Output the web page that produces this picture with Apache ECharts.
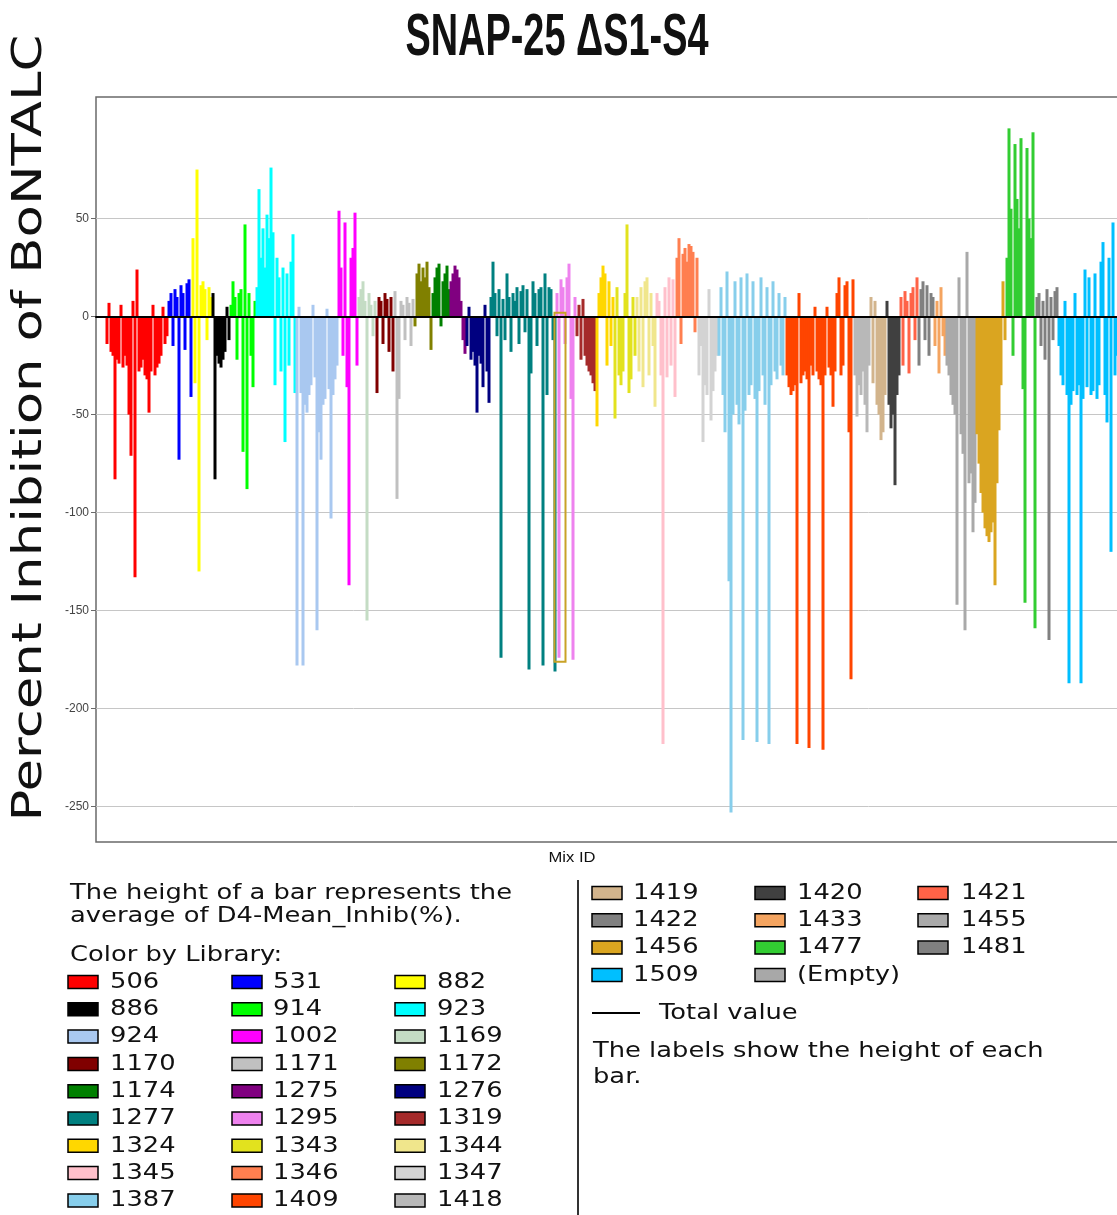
<!DOCTYPE html>
<html>
<head>
<meta charset="utf-8">
<title>SNAP-25 ΔS1-S4</title>
<script src="https://cdn.jsdelivr.net/npm/echarts@6/dist/echarts.min.js"></script>
<style>
  html, body { margin: 0; padding: 0; background: #ffffff; overflow: hidden; }
  /* the plot runs a little past the right edge of the 1117px page */
  #chart { width: 1126px; height: 1215px; }
</style>
</head>
<body>
<div id="chart"></div>
<script>
// Libraries in the order they run along the Mix ID axis, with their colours
const libraries = ['506','531','882','886','914','923','924','1002','1169','1170','1171','1172','1174','1275','1276','1277','1295','1319','1324','1343','1344','1345','1346','1347','1387','1409','1418','1419','1420','1421','1422','1433','1455','1456','1477','1481','1509'];
const libraryColors = ['#ff0000','#0000ff','#ffff00','#000000','#00ff00','#00ffff','#a9c8f0','#ff00ff','#c4dcc4','#800000','#c0c0c0','#808000','#008000','#800080','#000080','#008080','#ee82ee','#a52a2a','#ffd700','#e2e21e','#f0e68c','#ffc0cb','#ff7f50','#d3d3d3','#87ceeb','#ff4500','#b8b8b8','#d2b48c','#404040','#ff6347','#808080','#f4a460','#a9a9a9','#daa520','#32cd32','#808080','#00bfff'];
const emptyColor = '#a8a8a8';

// Average D4-Mean_Inhib(%) for each mix, one array per library
const v506  = [-14, 7, -18, -20, -83, -22, -24, 6, -26, -20, -25, -50, -71, 8, -133, 24, -28, -26, -22, -30, -32, -49, -28, 6, -30, -26, -24, -20, 5, -14, -10];
const v531  = [8, 12, -15, 14, 10, -73, 16, 12, -17, 17, 19, -41];
const v882  = [40, -34, 75, -130, 16, 18, 14, -12, 15, 10];
const v886  = [12, -83, -20, -24, -26, -22, -18, 5, -12];
const v914  = [6, 18, 10, -22, 12, 14, -69, 47, -88, 12, -20, -36, 8];
const v923  = [15, 65, 30, 45, 25, 52, 40, 76, 43, -35, 30, 20, -28, 25, -64, 22, -25, 28, 42, -39];
const v924  = [-178, 5, -39, -178, -45, -49, -40, -35, 6, -31, -160, -59, -73, -45, -42, 4, -37, -103, -40, -32, -25];
const v1002 = [54, 25, -20, 48, -36, -137, 30, 35, 53, -25];
const v1169 = [10, 14, 18, 8, -155, 12, 6, -10, 8];
const v1170 = [-39, 10, 8, -14, 12, 9, -18, 10, -28];
const v1171 = [13, -93, -42, 8, 6, -12, 10, 7, -15, 9];
const v1172 = [-5, 22, 27, 18, 25, 20, 28, 15, -17];
const v1174 = [12, 20, 25, 27, -5, 18, 22, 26, 14];
const v1275 = [18, 22, 26, 24, 20, 8, -12, -19];
const v1276 = [-15, 5, -22, -18, -25, -49, -20, -24, -36, 6, -28, -44];
const v1277 = [10, 28, 12, -10, 14, -174, 9, -12, 22, 10, -18, 12, 8, 15, -14, 13, 16, -8, 14, -180, -29, 18, 12, -15, 14, 15, -178, 22, -40, 15, 14, -12, -181];
const v1295 = [12, -174, 19, 15, -14, 20, 27, -42, -175, 10];
const v1319 = [-10, 6, -22, 9, -20, -25, -28, -30, -34, -38];
const v1324 = [-56, 12, 20, 26, 22, -25, 18, -15, 10];
const v1343 = [-52, 15, -30, -35, -28, 12, 47, -39, -32, 10, -20];
const v1344 = [10, -28, 15, -36, 18, 20, -30, 12, -15, -46];
const v1345 = [12, 8, -30, -218, 15, -31, 20, -25, 19, -41];
const v1346 = [30, 40, -14, 32, 35, 28, 37, 36, 33, -8, 30];
const v1347 = [-30, -15, -64, -35, -40, 14, -53, -38, -28, -20];
const v1387 = [-20, 15, -40, -59, 23, -135, -253, -50, 18, -45, -55, 20, -216, -48, 22, -40, -35, 18, -42, -217, -38, 20, -30, -45, 15, -218, -35, 18, -28, -32, 12, -25, -30, 10];
const v1409 = [-30, -36, -40, -38, -35, -218, 12, -34, -30, -28, -32, -220, -25, -30, 5, -28, -32, -35, -221, -30, 5, -26, -30, -46, -28, 12, 20, -30, -25, 16, 18, -59, -185, 19];
const v1418 = [-30, -51, -35, -40, -28, -45, -59, -25];
const v1419 = [10, -34, 8, -45, -50, -63, -59, -40];
const v1420 = [8, -45, -57, -50, -86, -40, -30];
const v1421 = [10, -25, 13, 8, -29, 12, 15, -12, 20];
const v1422 = [-25, 14, 18, -12, 16, -20, 12, 10];
const v1433 = [-15, 8, -29, 15, -10, -20];
const v1455 = [-25, -30, -40, -45, -50, -147, 20, -60, -70, -160, 33, -85, -80, -110, -95];
const v1456 = [-60, -75, -90, -100, -108, -112, -115, -110, -105, -137, -85, -58, -35, 18, -12];
const v1477 = [30, 96, 55, -20, 88, 60, 45, 91, -37, -146, 86, 50, 40, 94, -159];
const v1481 = [10, 12, -15, 8, -22, 14, -165, 10, -12, 13, 15];
const v1509 = [-15, -30, -35, 8, -40, -187, -45, -38, 12, -40, -35, -187, -42, 24, -36, 20, -40, -38, 22, -42, -35, 28, 38, -40, -54, 30, -120, 48, -30, -20, 15, -25];

const libraryValues = [v506, v531, v882, v886, v914, v923, v924, v1002, v1169, v1170, v1171, v1172, v1174, v1275, v1276, v1277, v1295, v1319, v1324, v1343, v1344, v1345, v1346, v1347, v1387, v1409, v1418, v1419, v1420, v1421, v1422, v1433, v1455, v1456, v1477, v1481, v1509];

// Empty Mix IDs before the first and after the last library
const leadingEmptyMixes = 5;
const trailingEmptyMixes = 2;

// The highlighted (selected) mix: library and position within it
const selectedLibrary = '1295';
const selectedItem = 1;

const yTicks = [50, 0, -50, -100, -150, -200, -250];

const legendLeftOrder = ['506','531','882','886','914','923','924','1002','1169','1170','1171','1172','1174','1275','1276','1277','1295','1319','1324','1343','1344','1345','1346','1347','1387','1409','1418'];
const legendRightOrder = ['1419','1420','1421','1422','1433','1455','1456','1477','1481','1509','(Empty)'];

// ---- build the bar data ----
const mixIds = [];
const barData = [];
let selectedIndex = 0;
for (let i = 0; i < leadingEmptyMixes; i++) { mixIds.push(String(mixIds.length + 1)); barData.push('-'); }
libraries.forEach((lib, li) => {
  libraryValues[li].forEach((v, k) => {
    if (lib === selectedLibrary && k === selectedItem) selectedIndex = barData.length;
    mixIds.push(String(mixIds.length + 1));
    barData.push({ value: v, itemStyle: { color: libraryColors[li] } });
  });
});
for (let i = 0; i < trailingEmptyMixes; i++) { mixIds.push(String(mixIds.length + 1)); barData.push('-'); }
const selectedValue = barData[selectedIndex].value;

// ---- text helpers ----
const measureCtx = document.createElement('canvas').getContext('2d');
function fitScale(text, font, width) {
  measureCtx.font = font;
  return width / measureCtx.measureText(text).width;
}
const ink = '#111111';
function textEl(text, x, y, font, scaleX, align, rotation) {
  return {
    type: 'text', x: x, y: y, scaleX: scaleX, scaleY: 1, rotation: rotation || 0, silent: true,
    style: { text: text, font: font, fill: ink, textAlign: align || 'left', verticalAlign: 'middle', textVerticalAlign: 'middle' }
  };
}

const colorOf = name => name === '(Empty)' ? emptyColor : libraryColors[libraries.indexOf(name)];

const legendFont = '22px "DejaVu Sans"';
const legendScale = fitScale('The height of a bar represents the', legendFont, 442);

const graphics = [];

// title
const titleFont = 'bold 60px "Liberation Sans"';
graphics.push(textEl('SNAP-25 ΔS1-S4', 557, 38, titleFont, fitScale('SNAP-25 ΔS1-S4', titleFont, 303), 'center'));

// vertical axis title
const yTitle = 'Percent Inhibition of BoNTALC';
const yTitleFont = '41px "DejaVu Sans"';
graphics.push(textEl(yTitle, 30, 428, yTitleFont, fitScale(yTitle, yTitleFont, 787), 'center', Math.PI / 2));

// x axis name
const xNameFont = '15px "Liberation Sans"';
graphics.push(textEl('Mix ID', 572, 858, xNameFont, fitScale('Mix ID', xNameFont, 47), 'center'));

// left legend block
graphics.push(textEl('The height of a bar represents the', 70, 893, legendFont, legendScale));
graphics.push(textEl('average of D4-Mean_Inhib(%).', 70, 916, legendFont, legendScale));
graphics.push(textEl('Color by Library:', 70, 955, legendFont, legendScale));

function legendGrid(order, swatchX, textX, y0, step) {
  order.forEach((name, i) => {
    const col = i % 3, row = Math.floor(i / 3);
    const cy = y0 + row * step;
    graphics.push({
      type: 'rect', silent: true,
      shape: { x: swatchX[col], y: cy - 6.5, width: 30, height: 13 },
      style: { fill: colorOf(name), stroke: '#000000', lineWidth: 1.5 }
    });
    graphics.push(textEl(name, textX[col], cy, legendFont, legendScale));
  });
}
legendGrid(legendLeftOrder, [68, 232, 395], [110, 273, 437], 982, 27.3);
legendGrid(legendRightOrder, [592, 755, 918], [633, 797, 961], 893, 27.3);

// divider between legend blocks
graphics.push({ type: 'line', silent: true, shape: { x1: 578, y1: 880, x2: 578, y2: 1215 }, style: { stroke: '#333333', lineWidth: 2 } });

// total value key
graphics.push({ type: 'line', silent: true, shape: { x1: 592, y1: 1013, x2: 640, y2: 1013 }, style: { stroke: '#000000', lineWidth: 2 } });
graphics.push(textEl('Total value', 659, 1013, legendFont, legendScale));
graphics.push(textEl('The labels show the height of each', 593, 1051, legendFont, legendScale));
graphics.push(textEl('bar.', 593, 1077, legendFont, legendScale));

const chart = echarts.init(document.getElementById('chart'), null, { renderer: 'canvas' });
chart.setOption({
  animation: false,
  backgroundColor: '#ffffff',
  grid: {
    left: 96, top: 97, right: 0, bottom: 373,
    show: true, borderColor: '#6a6a6a', borderWidth: 1.5, backgroundColor: '#ffffff'
  },
  xAxis: {
    type: 'category',
    data: mixIds,
    z: 5,
    axisLine: { show: true, onZero: true, lineStyle: { color: '#000000', width: 2 } },
    axisTick: { show: false },
    axisLabel: { show: false },
    splitLine: { show: false }
  },
  yAxis: {
    type: 'value',
    min: -268,
    max: 112,
    axisLine: { show: false },
    axisTick: { show: true, length: 5, customValues: yTicks, lineStyle: { color: '#6a6a6a', width: 1 } },
    axisLabel: { customValues: yTicks, fontSize: 12, fontFamily: '"Liberation Sans"', color: '#444444', margin: 7 },
    splitLine: { show: true, lineStyle: { color: '#c6c6c6', width: 1 } }
  },
  series: [{
    type: 'bar',
    name: 'D4-Mean_Inhib(%)',
    data: barData,
    barWidth: 3,
    barGap: '-100%',
    silent: true
  }, {
    // outline around the selected mix
    type: 'custom',
    name: 'selection',
    silent: true,
    z: 4,
    data: [[selectedIndex, 2, selectedValue - 2]],
    renderItem: function (params, api) {
      const top = api.coord([api.value(0), api.value(1)]);
      const bottom = api.coord([api.value(0), api.value(2)]);
      const w = api.size([1, 0])[0] * 5.5;
      return {
        type: 'rect',
        shape: { x: top[0] - w / 2 + 1, y: top[1], width: w, height: bottom[1] - top[1] },
        style: { fill: 'none', stroke: '#c9a227', lineWidth: 2 }
      };
    }
  }],
  graphic: { elements: graphics }
});
</script>
</body>
</html>
